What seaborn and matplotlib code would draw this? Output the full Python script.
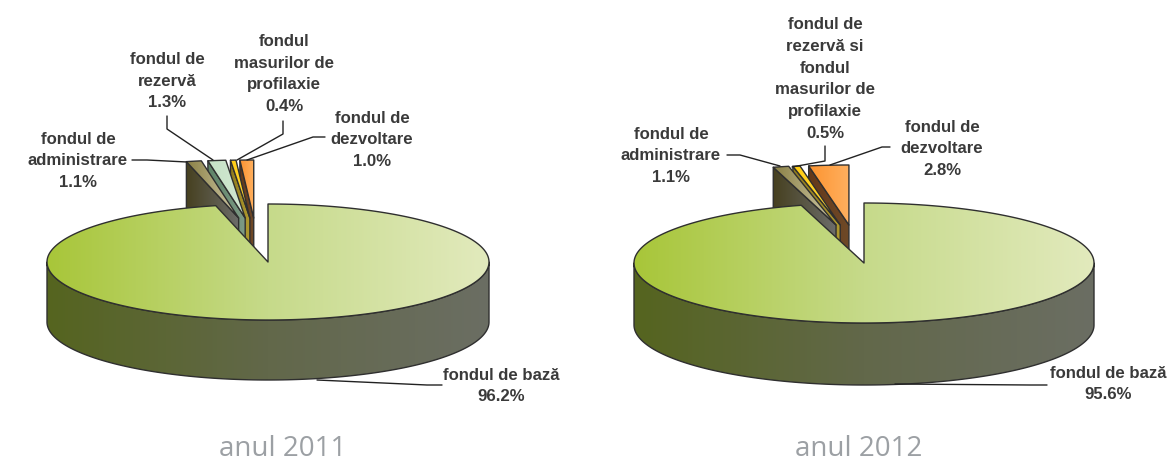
import numpy as np
import matplotlib
matplotlib.use("Agg")
import matplotlib.pyplot as plt
from matplotlib.patches import Polygon
import seaborn as sns

sns.set_theme(style="white")
plt.rcParams['font.family'] = ['Liberation Sans', 'DejaVu Sans']

# ---- data ----
cats_2011 = ["fondul de bază", "fondul de\nadministrare", "fondul de\nrezervă",
             "fondul\nmasurilor de\nprofilaxie", "fondul de\ndezvoltare"]
vals_2011 = [96.2, 1.1, 1.3, 0.4, 1.0]
cats_2012 = ["fondul de bază", "fondul de\nadministrare",
             "fondul de\nrezervă si\nfondul\nmasurilor de\nprofilaxie", "fondul de\ndezvoltare"]
vals_2012 = [95.6, 1.1, 0.5, 2.8]
titles = ["anul 2011", "anul 2012"]

# ---- style ----
BASE_TOP = ["#a8c639", "#c6da8a", "#e2eabd"]
BASE_WALL = ["#55641f", "#62684a", "#6b6e63"]
ADMIN = (["#8a8044", "#cfc9a8"], ["#46401f", "#6c6c6a"])
RES = (["#c6e2c6", "#d2e8d2"], ["#5f8468", "#7d9a86"])
MAS = (["#ffcc10", "#ffdc40"], ["#8f7a1c", "#b09a30"])
DEV = (["#fd9430", "#ffb060"], ["#63381a", "#6f4a28"])
EDGE = "#2f2f2f"
TXT = "#3a3a3a"


def pts(cx, cy, rx, ry, t0, t1, n=160):
    t = np.radians(np.linspace(t0, t1, n))
    return np.column_stack([cx + rx * np.sin(t), cy - ry * np.cos(t)])


def gradient(ax, poly, colors, z, span=None):
    cmap = sns.blend_palette(colors, as_cmap=True)
    x0, x1 = span if span else (poly[:, 0].min(), poly[:, 0].max())
    y0, y1 = poly[:, 1].min(), poly[:, 1].max()
    im = ax.imshow(np.linspace(0, 1, 256).reshape(1, -1), cmap=cmap, aspect="auto",
                   extent=(x0, x1, y1, y0), zorder=z, interpolation="bilinear")
    im.set_clip_path(Polygon(poly, closed=True, transform=ax.transData))
    ax.add_patch(Polygon(poly, closed=True, fill=False, ec=EDGE, lw=1.0, zorder=z + 0.1,
                         joinstyle="round"))


def draw_pie(ax, vals, styles, g):
    cx, cy, rx, ry, depth = g["cx"], g["cy"], g["rx"], g["ry"], g["depth"]
    edges = np.cumsum([0] + list(vals)) * 3.6
    z = 2
    # exploded slices, back to front (right to left)
    for i in range(len(vals) - 1, 0, -1):
        t0, t1 = edges[i], edges[i + 1]
        mid = np.radians((t0 + t1) / 2)
        ox = g["dx0"] + g["ex"] * np.sin(mid)
        oy = -g["lift"]
        ax_x, ax_y = cx + ox, cy + oy
        arc = pts(ax_x, ax_y, rx, ry, t0, t1, 30)
        apex = np.array([[ax_x, ax_y]])
        top_cols, wall_cols = styles[i]
        wall = np.vstack([arc[:1], apex, apex + [0, depth], arc[:1] + [0, depth]])
        gradient(ax, wall, wall_cols, z)
        gradient(ax, np.vstack([apex, arc]), top_cols, z + 1)
        z += 2
    # main slice
    outer = pts(cx, cy, rx, ry, 90, 270)
    wall = np.vstack([outer, (outer + [0, depth])[::-1]])
    gradient(ax, wall, BASE_WALL, z)
    top = np.vstack([[[cx, cy]], pts(cx, cy, rx, ry, 0, edges[1], 300)])
    gradient(ax, top, BASE_TOP, z + 1, span=(cx - rx, cx + rx))


def label(ax, name, val, x, y):
    ax.text(x, y, f"{name}\n{val:.1f}%", ha="center", va="center", fontsize=12.1,
            fontweight="bold", color=TXT, linespacing=1.56, zorder=30)


def leader(ax, path):
    path = np.array(path)
    ax.plot(path[:, 0], path[:, 1], color="#222222", lw=1.0, zorder=25)


fig = plt.figure(figsize=(11.67, 4.64), dpi=100, facecolor="white")
ax1 = fig.add_axes([0, 0, 0.5, 1])
ax2 = fig.add_axes([0.5, 0, 0.5, 1])

geo1 = dict(cx=268, cy=263, rx=221, ry=58, depth=60, lift=44, dx0=-11.5, ex=88)
geo2 = dict(cx=864, cy=264, rx=230, ry=60, depth=62, lift=38, dx0=-7.6, ex=85)

draw_pie(ax1, vals_2011, [None, ADMIN, RES, MAS, DEV], geo1)
draw_pie(ax2, vals_2012, [None, ADMIN, MAS, DEV], geo2)

# left labels
for name, v, x, y in zip(cats_2011, vals_2011, [501, 78, 167, 284, 372], [386, 161, 81, 74, 140]):
    label(ax1, name, v, x, y)
# right labels
for name, v, x, y in zip(cats_2012, vals_2012, [1108, 671, 825, 942], [384, 156, 79, 149]):
    label(ax2, name, v, x, y)

for p in ([(132, 161), (147, 161), (187, 163)],
          [(167, 117), (167, 130), (213, 161)],
          [(283, 122), (283, 135), (237, 161)],
          [(325, 138), (313, 138), (247, 161)],
          [(442, 386), (427, 386), (317, 381)]):
    leader(ax1, p)
for p in ([(727, 156), (740, 156), (780, 167)],
          [(825, 147), (825, 162), (792, 168)],
          [(890, 148), (882, 148), (830, 166)],
          [(1047, 386), (1030, 386), (895, 385)]):
    leader(ax2, p)

for ax, t, x in zip((ax1, ax2), titles, (283, 859)):
    ax.text(x, 449, t, ha="center", va="center", fontsize=20, color="#9ca0a4",
            family=["Open Sans", "DejaVu Sans"], zorder=30)

ax1.set_xlim(0, 583.5)
ax2.set_xlim(583.5, 1167)
for ax in (ax1, ax2):
    ax.set_ylim(464, 0)
    ax.axis("off")

fig.savefig("out.png", dpi=100, facecolor="white")
